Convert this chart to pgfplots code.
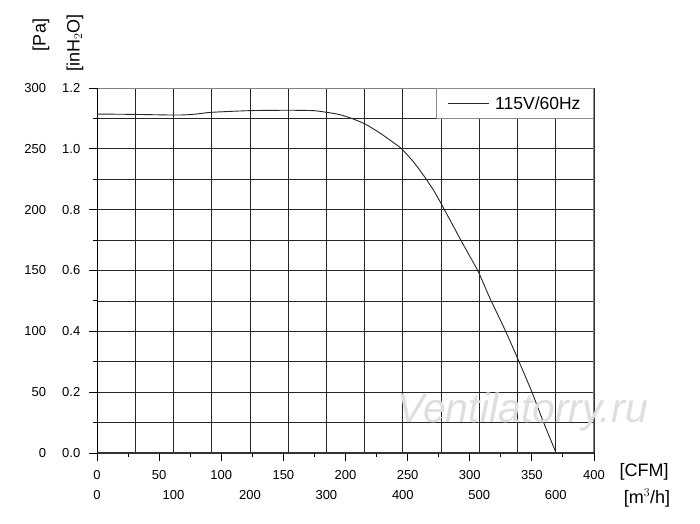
\documentclass[border=0pt]{standalone}
\usepackage{pgfplots}
\pgfplotsset{compat=1.18}
\usepackage{fontspec}
\setmainfont{Liberation Sans}
\newcommand{\tfont}{\fontsize{13}{15}\selectfont}
\begin{document}
\begin{tikzpicture}[x=1pt,y=1pt]
\path[use as bounding box] (-97,-70) rectangle (603,453);
% secondary axis: vertical grid and m3/h labels
\begin{axis}[
  at={(0,0)}, anchor=south west, scale only axis,
  width=497pt, height=365pt,
  xmin=0, xmax=650, ymin=0, ymax=300,
  axis line style={draw=none},
  xtick={0,50,...,650},
  xticklabels={0,,100,,200,,300,,400,,500,,600,},
  xmajorgrids, grid style={black!85, line width=0.8pt},
  major tick length=0pt,
  ytick=\empty,
  xticklabel style={font=\tfont, anchor=base, inner sep=0pt, yshift=-46.5pt},
]
\end{axis}
% main axis
\begin{axis}[
  at={(0,0)}, anchor=south west, scale only axis,
  width=497pt, height=365pt,
  xmin=0, xmax=400, ymin=0, ymax=300,
  axis line style={draw=none},
  xtick={0,50,...,400},
  xticklabels={0,50,100,150,200,250,300,350,400},
  minor x tick num=1,
  ytick={0,50,...,300},
  yticklabels={
    {\makebox[32pt][r]{0}\makebox[34.3pt][r]{0.0}},
    {\makebox[32pt][r]{50}\makebox[34.3pt][r]{0.2}},
    {\makebox[32pt][r]{100}\makebox[34.3pt][r]{0.4}},
    {\makebox[32pt][r]{150}\makebox[34.3pt][r]{0.6}},
    {\makebox[32pt][r]{200}\makebox[34.3pt][r]{0.8}},
    {\makebox[32pt][r]{250}\makebox[34.3pt][r]{1.0}},
    {\makebox[32pt][r]{300}\makebox[34.3pt][r]{1.2}}},
  minor y tick num=1,
  ymajorgrids, yminorgrids,
  major grid style={black!85, line width=0.8pt},
  minor grid style={black!85, line width=0.8pt},
  tick align=outside,
  xtick pos=lower, ytick pos=lower,
  major tick length=7.5pt, minor tick length=3.5pt,
  every tick/.style={black, line width=1pt},
  xticklabel style={font=\tfont, anchor=base, inner sep=0pt, yshift=-19pt},
  yticklabel style={font=\tfont, anchor=east, inner sep=0pt, xshift=-9pt},
  legend style={at={(rel axis cs:1,1)}, anchor=north east, draw=black!45, line width=1pt,
    fill=white, font=\fontsize{17.5}{19}\selectfont,
    inner xsep=11pt, inner ysep=6pt, cells={anchor=west},
    /tikz/every odd column/.append style={column sep=4pt}},
  legend image code/.code={\draw[#1, line width=0.8pt] (0pt,0pt) -- (41pt,0pt);},
]
\addplot[black!85, line width=0.9pt, smooth, tension=0.4] coordinates {
(0,278.6) (30,278.3) (60,277.8) (70,277.9) (80,278.6) (92,280.0) (123,281.4)
(154,281.7) (174,281.4) (185,280.0) (195,278.2) (205,275.0) (216,270.3)
(228,262.8) (238.5,255.2) (245.2,250) (254.6,239.4) (262.6,228.5) (270.7,216.2)
(276.1,206.6) (284.1,191.5) (293.5,173.7) (300.2,161.4) (306.9,149.0)
(316.3,127.1) (328.4,101.1) (339.1,76.4) (349.9,50.4) (359.2,25.7) (369.5,0)
};
\addlegendentry{115V/60Hz}
\draw[black!50, line width=1.2pt] (rel axis cs:0,1) -- (rel axis cs:1,1) -- (rel axis cs:1,0);
\draw[black!80, line width=1.8pt] (rel axis cs:0,0) -- (rel axis cs:1,0);
\draw[black, line width=1.8pt] (rel axis cs:0,0) -- (rel axis cs:0,1);
\end{axis}
\node[font=\fontsize{41}{44}\selectfont\itshape, text=black!13, anchor=base west, inner sep=0pt] at (300,31) {Ventilatorry.ru};
\node[font=\fontsize{18}{20}\selectfont, rotate=90] at (-56,418) {[Pa]};
\node[font=\fontsize{18}{20}\selectfont, rotate=90] at (-22,410) {[inH$_2$O]};
\node[font=\fontsize{18}{20}\selectfont] at (547,-19) {[CFM]};
\node[font=\fontsize{18}{20}\selectfont] at (550,-45) {[m$^3$/h]};
\end{tikzpicture}
\end{document}
